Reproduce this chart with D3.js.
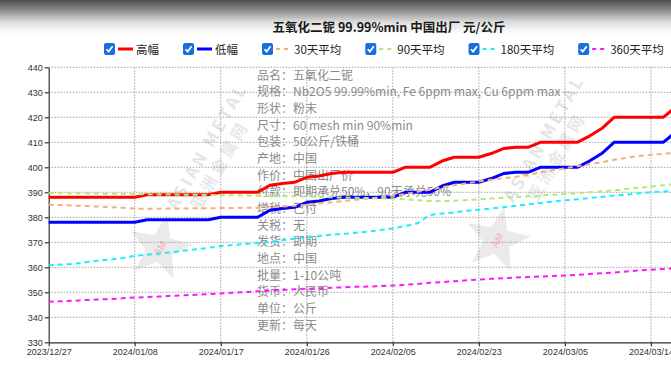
<!DOCTYPE html>
<html><head><meta charset="utf-8">
<script src="https://cdn.jsdelivr.net/npm/d3@7/dist/d3.min.js"></script>
<style>html,body{margin:0;padding:0;background:#fff;overflow:hidden}svg{display:block}</style>
</head><body><svg id="c" width="671" height="374"></svg>
<script>
const dates = ["2023/12/27","2023/12/28","2023/12/29","2024/01/02","2024/01/03","2024/01/04","2024/01/05","2024/01/08",
"2024/01/09","2024/01/10","2024/01/11","2024/01/12","2024/01/15","2024/01/16","2024/01/17","2024/01/18","2024/01/19",
"2024/01/22","2024/01/23","2024/01/24","2024/01/25","2024/01/26","2024/01/29","2024/01/30","2024/01/31","2024/02/01",
"2024/02/02","2024/02/04","2024/02/05","2024/02/06","2024/02/07","2024/02/19","2024/02/20","2024/02/21","2024/02/22",
"2024/02/23","2024/02/26","2024/02/27","2024/02/28","2024/02/29","2024/03/01","2024/03/04","2024/03/05","2024/03/06",
"2024/03/07","2024/03/08","2024/03/11","2024/03/12","2024/03/13","2024/03/14","2024/03/15","2024/03/18"];
const tickDates = ["2023/12/27","2024/01/08","2024/01/17","2024/01/26","2024/02/05","2024/02/23","2024/03/05","2024/03/14"];
const yTicks = [330,340,350,360,370,380,390,400,410,420,430,440];

const high = [388,388,388,388,388,388,388,388,389,389,389,389,389,389,390,390,390,390,392.8,393.5,394,396,396.5,397.5,
398,398,398,398,398,400,400,400,402.5,404,404,404,405.5,407.5,408,408,410,410,410,410,412.5,415.5,420,420,420,420,420,424];
const low = [378,378,378,378,378,378,378,378,379,379,379,379,379,379,380,380,380,380,382.8,383.5,384,386,386.5,387.5,
388,388,388,388,388,390,390,390,392.5,394,394,394,395.5,397.5,398,398,400,400,400,400,402.5,405.5,410,410,410,410,410,414];
const avg30 = [385,384.9,384.7,384.5,384.3,384.1,383.8,383.5,383.4,383.4,383.5,383.5,383.6,383.6,383.7,383.7,383.8,383.8,
384,384.3,384.6,385,385.5,386,386.5,387,387.5,388,388.5,389.3,390.2,391,392,392.8,393.6,394.3,395,395.6,396.2,397,398,
398.8,399.6,400.4,401.2,402,403,403.8,404.5,405,405.4,405.8];
const avg90 = [389.7,389.7,389.6,389.6,389.5,389.4,389.3,389.2,389.2,389.1,389.1,389,389,388.9,388.9,388.8,388.7,388.6,
388.5,388.4,388.4,388.3,388.2,388,387.9,387.8,387.7,387.6,387.5,387.2,386.8,386.5,386.5,386.6,386.9,387.2,387.5,387.8,
388.1,388.4,388.7,389,389.3,389.6,390,390.4,390.8,391.3,391.8,392.3,392.8,393.3];
const avg180 = [360.8,361.1,361.4,362,362.6,363.1,363.7,364.6,365,365.5,366,366.6,367.2,367.8,368.5,368.9,369.3,369.7,
370.2,370.8,371.4,372,372.5,373,373.4,373.8,374.3,374.9,375.6,376.5,377.6,380.9,381.5,382,382.6,383,383.5,384,384.6,
385.2,385.7,386.3,386.8,387.2,387.7,388.2,388.7,389.1,389.6,390,390.3,390.5];
const avg360 = [346.2,346.4,346.6,346.9,347.1,347.3,347.6,347.9,348.1,348.3,348.6,348.8,349,349.3,349.5,349.8,350.1,
350.4,350.6,350.9,351.2,351.4,351.6,351.8,352,352.2,352.3,352.5,352.7,353,353.3,353.8,354.1,354.4,354.8,355.1,355.4,
355.6,355.9,356.1,356.3,356.5,356.7,357,357.3,357.6,357.9,358.3,358.7,359,359.3,359.6];

const seriesNames = ["高幅","低幅","30天平均","90天平均","180天平均","360天平均"];
const seriesValues = [high, low, avg30, avg90, avg180, avg360];
const seriesColors = ["#ff0000","#0000ff","#f5b07a","#b2ea78","#19f0ff","#ff17ff"];
const seriesDashed = [false,false,true,true,true,true];

const titleText = "五氧化二铌 99.99%min 中国出厂 元/公斤";
const infoLabels = ["品名：","规格：","形状：","尺寸：","包装：","产地：","作价：","付款：","增税：","关税：","发货：","地点：","批量：","货币：","单位：","更新："];
const infoValues = ["五氧化二铌","Nb2O5 99.99%min, Fe 6ppm max, Cu 6ppm max","粉末","60 mesh min 90%min","50公斤/铁桶","中国","中国出厂价","即期承兑50%，90天承兑50%","已付","无","即期","中国","1-10公吨","人民币","公斤","每天"];

const FONT = "'Noto Sans CJK SC','Noto Sans',sans-serif";
const svg = d3.select("#c");
const W = 671, H = 374;

// background with top shadow
const defs = svg.append("defs");
const g0 = defs.append("linearGradient").attr("id","topg").attr("x1",0).attr("y1",0).attr("x2",0).attr("y2",1);
g0.append("stop").attr("offset","0").attr("stop-color","#4e4e4e");
g0.append("stop").attr("offset","0.3").attr("stop-color","#8c8c8c");
g0.append("stop").attr("offset","0.65").attr("stop-color","#dedede");
g0.append("stop").attr("offset","1").attr("stop-color","#ffffff");
svg.append("rect").attr("width",W).attr("height",H).attr("fill","#fff");
svg.append("rect").attr("width",W).attr("height",34).attr("fill","url(#topg)");

const left = 48.7, step = 12.29;
const x = d3.scalePoint().domain(dates).range([left, left + step*(dates.length-1)]);
const y = d3.scaleLinear().domain([330,440]).range([342.3,67.3]);

// watermarks
function watermark(cx, cy){
  const g = svg.append("g").attr("transform",`translate(${cx},${cy}) rotate(-60)`).attr("opacity",0.55);
  const pts = d3.range(10).map(k=>{const r = k%2? 14: 34; const a = -Math.PI/2 + k*Math.PI/5; return [r*Math.cos(a), r*Math.sin(a)];});
  g.append("polygon").attr("points",pts.map(p=>p.join(",")).join(" ")).attr("fill","#d9d9d9");
  g.append("text").attr("x",0).attr("y",4).attr("text-anchor","middle").attr("font-family",FONT).attr("font-weight","bold")
    .attr("font-size",10).attr("fill","#f08a8a").text("AM");
  g.append("text").attr("x",40).attr("y",-4).attr("font-family",FONT).attr("font-weight","bold").attr("font-size",17)
    .attr("letter-spacing",3).attr("fill","#cfcfcf").text("ASIAN METAL");
  g.append("text").attr("x",52).attr("y",16).attr("font-family",FONT).attr("font-weight","bold").attr("font-size",16)
    .attr("letter-spacing",4).attr("fill","#d6d6d6").text("亚洲金属网");
}
watermark(160,248);
watermark(497,240);

// grid
const grid = svg.append("g");
grid.selectAll("line.h").data(yTicks.filter(v=>v>330)).join("line")
  .attr("x1",left).attr("x2",W+10).attr("y1",d=>y(d)).attr("y2",d=>y(d))
  .attr("stroke","#8a8a8a").attr("stroke-width",0.8).attr("stroke-dasharray","1.5,1.5");
grid.selectAll("line.v").data(tickDates.slice(1)).join("line")
  .attr("x1",d=>x(d)).attr("x2",d=>x(d)).attr("y1",y(440)).attr("y2",y(330))
  .attr("stroke","#8a8a8a").attr("stroke-width",0.8).attr("stroke-dasharray","1.5,1.5");

// info block
const info = svg.append("g").attr("font-family",FONT).attr("font-size",12).attr("fill","#8a8a8a");
infoLabels.forEach((l,i)=>{
  info.append("text").attr("x",257).attr("y",79.5+i*16.68).text(l);
  info.append("text").attr("x",293).attr("y",79.5+i*16.68).text(infoValues[i]);
});

// axes
const ax = svg.append("g").attr("transform",`translate(${left},0)`)
  .call(d3.axisLeft(y).tickValues(yTicks).tickSize(4).tickSizeOuter(0).tickPadding(2));
const bx = svg.append("g").attr("transform",`translate(0,${y(330)})`)
  .call(d3.axisBottom(x).tickValues(tickDates).tickSize(4).tickSizeOuter(0).tickPadding(2));
[ax,bx].forEach(a=>{
  a.selectAll("path,line").attr("stroke","#333").attr("stroke-width",1.2);
  a.selectAll("text").attr("font-family","'Liberation Sans',Arial,sans-serif").attr("font-size",9).attr("fill","#333");
});

// lines
const line = d3.line().x((d,i)=>x(dates[i])).y(d=>y(d));
seriesValues.forEach((vals,k)=>{
  svg.append("path").datum(vals).attr("d",line).attr("fill","none")
    .attr("stroke",seriesColors[k]).attr("stroke-width",seriesDashed[k]?2:3)
    .attr("stroke-dasharray",seriesDashed[k]?"5,4":null).attr("stroke-linejoin","round");
});

// title
svg.append("text").attr("x",389).attr("y",31.5).attr("text-anchor","middle").attr("font-family",FONT)
  .attr("font-weight","bold").attr("font-size",12.5).attr("fill","#1a1a1a").text(titleText);

// legend
const lg = svg.append("g");
let lx = 104; const ly = 49;
seriesNames.forEach((n,k)=>{
  const it = lg.append("g").attr("transform",`translate(${lx},${ly})`);
  it.append("rect").attr("x",0).attr("y",-6).attr("width",11).attr("height",12).attr("rx",2).attr("fill","#1a6fe0");
  it.append("path").attr("d","M2.5,0.2 L4.6,2.6 L8.6,-2.8").attr("fill","none").attr("stroke","#fff").attr("stroke-width",1.7);
  it.append("line").attr("x1",14).attr("x2",29).attr("y1",0).attr("y2",0).attr("stroke",seriesColors[k])
    .attr("stroke-width",seriesDashed[k]?2:3).attr("stroke-dasharray",seriesDashed[k]?"4,4":null);
  const t = it.append("text").attr("x",32).attr("y",4.5).attr("font-family",FONT).attr("font-size",11.5).attr("fill","#222").text(n);
  const w = t.node().getComputedTextLength();
  lx += 32 + w + 24;
});
</script></body></html>
